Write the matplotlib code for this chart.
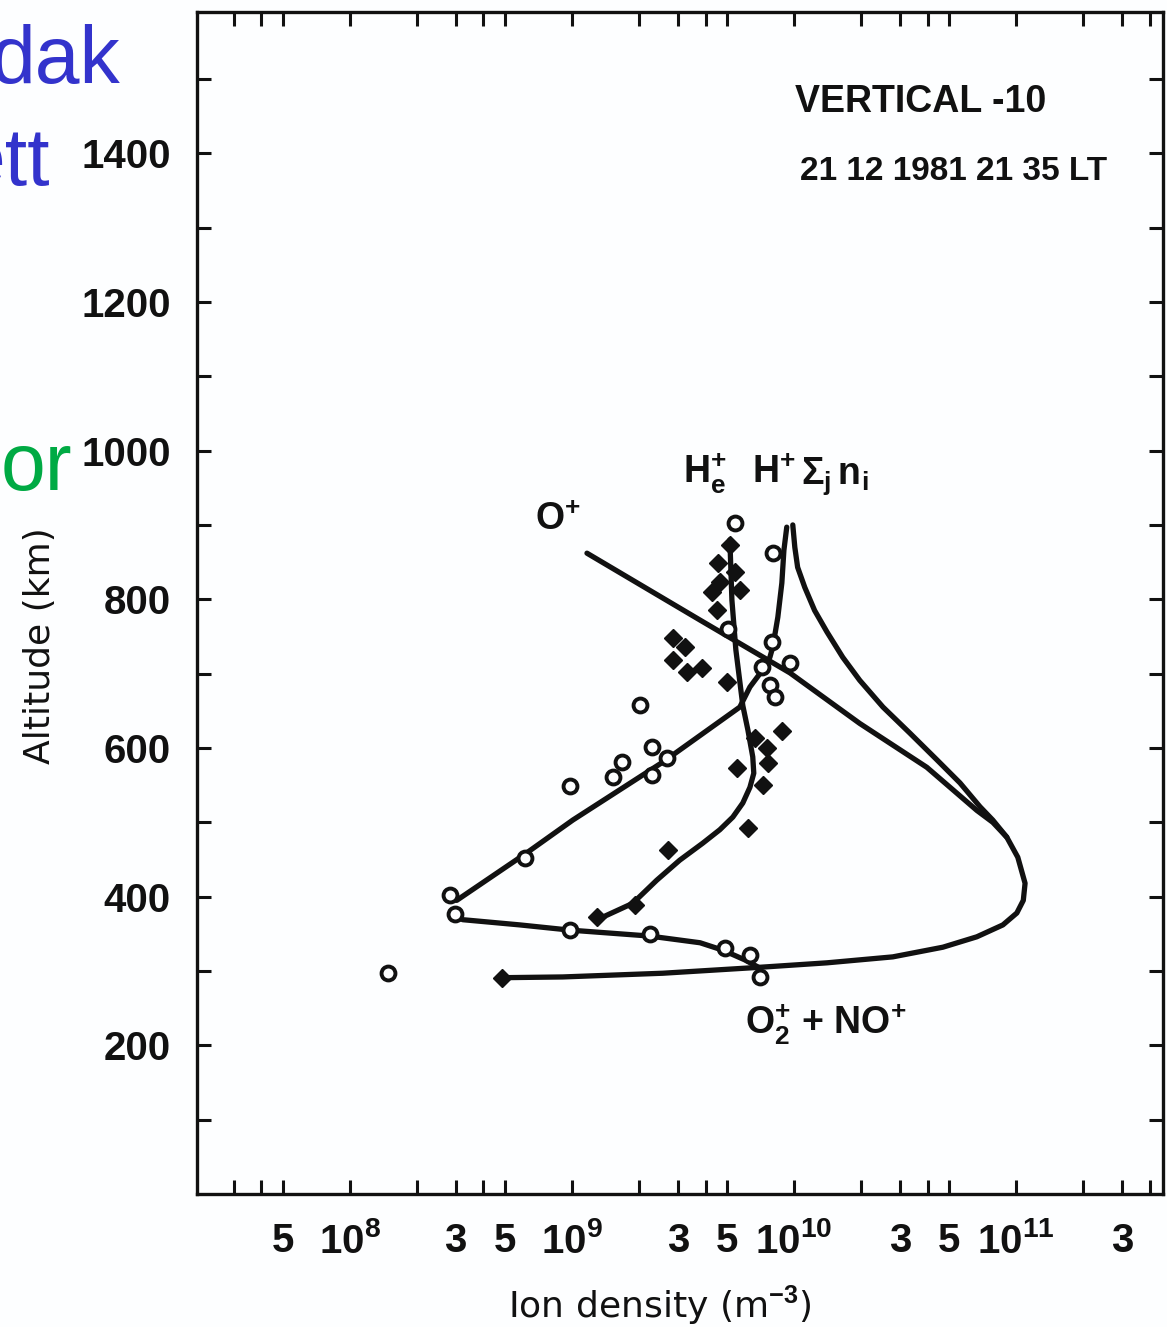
import matplotlib
matplotlib.use("Agg")
import matplotlib.pyplot as plt
from matplotlib.ticker import FixedLocator, NullFormatter

# ion density profiles (m^-3 vs km)
o_plus_density = [1.17e9, 3.78e9, 9.6e9, 1.98e10, 3.97e10, 6.67e10, 7.87e10, 9.1e10,
                  1.02e11, 1.10e11, 1.08e11, 1.01e11, 8.74e10, 6.67e10, 4.69e10, 2.79e10,
                  1.41e10, 7.03e9, 2.57e9, 9.1e8, 4.85e8]
o_plus_alt = [862, 772, 701, 633, 574, 516, 500, 480, 453, 418, 395, 378, 362, 346, 332,
              319, 311, 305, 297, 292, 291]

sum_density = [9.89e9, 1.01e10, 1.04e10, 1.12e10, 1.24e10, 1.41e10, 1.66e10, 1.98e10,
               2.52e10, 3.33e10, 4.41e10, 5.6e10, 6.89e10, 7.87e10, 9.1e10]
sum_alt = [900, 870, 843, 816, 785, 756, 722, 691, 655, 620, 584, 553, 521, 503, 480]

h_plus_density = [3.03e8, 6.27e8, 1.01e9, 2.57e9, 5.71e9, 6.34e9, 7.24e9, 7.8e9, 8.04e9,
                  8.47e9, 8.83e9, 9.02e9, 9.29e9]
h_plus_alt = [395, 459, 503, 581, 655, 682, 705, 722, 736, 776, 822, 866, 897]

he_plus_density = [5.15e9, 5.26e9, 5.48e9, 5.89e9, 6.21e9, 6.53e9, 6.6e9, 6.34e9, 5.89e9,
                   5.31e9, 4.64e9, 3.89e9, 3.06e9, 2.41e9, 1.88e9, 1.3e9]
he_plus_alt = [880, 799, 732, 657, 624, 588, 566, 547, 526, 507, 490, 472, 449, 422, 391, 369]

mol_density = [2.91e8, 3.23e8, 5.83e8, 9.8e8, 2.24e9, 3.78e9, 4.79e9, 6.01e9, 7.03e9]
mol_alt = [375, 369, 362, 355, 347, 338, 328, 315, 304]

# measured points: open circles
circle_density = [5.42e9, 8.04e9, 5.05e9, 7.96e9, 7.18e9, 9.59e9, 7.8e9, 8.2e9, 2.02e9,
                  2.29e9, 2.68e9, 2.29e9, 1.68e9, 1.53e9, 9.8e8, 6.14e8, 2.82e8, 2.97e8,
                  9.8e8, 2.24e9, 4.89e9, 6.34e9, 7.03e9, 1.48e8]
circle_alt = [902, 862, 760, 742, 709, 714, 685, 668, 658, 601, 586, 564, 581, 561, 549,
              452, 402, 377, 355, 350, 331, 321, 292, 297]

# measured points: filled diamonds
diamond_density = [5.15e9, 4.55e9, 5.42e9, 4.65e9, 4.28e9, 5.71e9, 4.5e9, 2.85e9, 3.23e9,
                   2.85e9, 3.3e9, 3.85e9, 4.99e9, 8.83e9, 6.67e9, 7.55e9, 7.63e9, 5.53e9,
                   7.24e9, 6.21e9, 2.7e9, 1.92e9, 1.3e9, 4.85e8]
diamond_alt = [873, 849, 837, 823, 810, 812, 785, 748, 736, 718, 702, 707, 689, 623, 613,
               600, 580, 573, 550, 492, 463, 389, 373, 291]

x_major = [5e7, 1e8, 3e8, 5e8, 1e9, 3e9, 5e9, 1e10, 3e10, 5e10, 1e11, 3e11]
x_major_labels = ["5", r"$10^{8}$", "3", "5", r"$10^{9}$", "3", "5", r"$10^{10}$",
                  "3", "5", r"$10^{11}$", "3"]
x_minor = [2e7, 3e7, 4e7, 2e8, 4e8, 2e9, 4e9, 2e10, 4e10, 2e11, 4e11]

face = "Liberation Sans"
plt.rcParams["font.family"] = [face, "DejaVu Sans"]
plt.rcParams["font.weight"] = "bold"
plt.rcParams["mathtext.fontset"] = "custom"
plt.rcParams["mathtext.rm"] = face + ":bold"
plt.rcParams["mathtext.it"] = face + ":bold"
plt.rcParams["mathtext.bf"] = face + ":bold"

ink = "#111111"
bg = "#fdfeff"

fig = plt.figure(figsize=(11.67, 13.27), dpi=100, facecolor=bg)
ax = fig.add_axes([0.1688, 0.1002, 0.8278, 0.8908], facecolor=bg)

line_kw = dict(color=ink, lw=3.8, solid_capstyle="round", solid_joinstyle="round")
ax.plot(o_plus_density, o_plus_alt, **line_kw)
ax.plot(sum_density, sum_alt, **line_kw)
ax.plot(h_plus_density, h_plus_alt, **line_kw)
ax.plot(he_plus_density, he_plus_alt, **line_kw)
ax.plot(mol_density, mol_alt, **line_kw)

ax.plot(circle_density, circle_alt, ls="none", marker="o", ms=10, mfc=bg, mec=ink, mew=2.8)
ax.plot(diamond_density, diamond_alt, ls="none", marker="D", ms=9, mfc=ink, mec=ink)

ax.set_xscale("log")
ax.set_xlim(2.05e7, 4.6e11)
ax.set_ylim(0, 1590)

ax.xaxis.set_major_locator(FixedLocator(x_major))
ax.set_xticklabels(x_major_labels)
ax.xaxis.set_minor_locator(FixedLocator(x_minor))
ax.xaxis.set_minor_formatter(NullFormatter())
ax.set_yticks(range(200, 1600, 200))
ax.set_yticks(range(100, 1600, 100), minor=True)

for which in ("major", "minor"):
    ax.tick_params(which=which, direction="in", length=10, width=2.2, color=ink,
                   top=True, right=True)
ax.tick_params(axis="x", which="major", pad=20, labelsize=29, labelcolor=ink)
ax.tick_params(axis="y", which="major", pad=19, labelsize=29, labelcolor=ink)
for sp in ax.spines.values():
    sp.set_linewidth(2.4)
    sp.set_color(ink)

ax.set_ylabel("Altitude (km)", family="DejaVu Sans", fontsize=26, color=ink, va="center")
ax.yaxis.set_label_coords(-0.163, 0.464)
ax.set_xlabel(r"Ion density (m$^{\mathbf{-3}}$)", family="DejaVu Sans", fontsize=26,
              color=ink, va="center")
ax.xaxis.set_label_coords(0.479, -0.094)

ax.text(0.619, 0.915, "VERTICAL -10", transform=ax.transAxes, fontsize=27, color=ink)
ax.text(0.624, 0.858, "21 12 1981 21 35 LT", transform=ax.transAxes, fontsize=24, color=ink)

ax.text(6.8e8, 893, r"O$^{+}$", fontsize=27, color=ink)
ax.text(3.16e9, 956, r"H$_{e}^{+}$", fontsize=27, color=ink)
ax.text(6.5e9, 956, r"H$^{+}$", fontsize=27, color=ink)
ax.text(1.08e10, 956, r"$\Sigma_{j}\,\mathrm{n}_{i}$", fontsize=27, color=ink)
ax.text(6.0e9, 214, r"O$_{2}^{+}$ + NO$^{+}$", fontsize=27, color=ink)

# cut-off slide text at the left edge
fig.text(120 / 1167, 1 - 83 / 1327, "dak", family="Liberation Sans", fontweight="normal",
         fontsize=58, color="#3333cc", ha="right", va="baseline")
fig.text(50 / 1167, 1 - 185 / 1327, "ett", family="Liberation Sans", fontweight="normal",
         fontsize=58, color="#3333cc", ha="right", va="baseline")
fig.text(72 / 1167, 1 - 490 / 1327, "or", family="Liberation Sans", fontweight="normal",
         fontsize=58, color="#00aa44", ha="right", va="baseline")

fig.savefig("out.png", dpi=100, facecolor=bg)
